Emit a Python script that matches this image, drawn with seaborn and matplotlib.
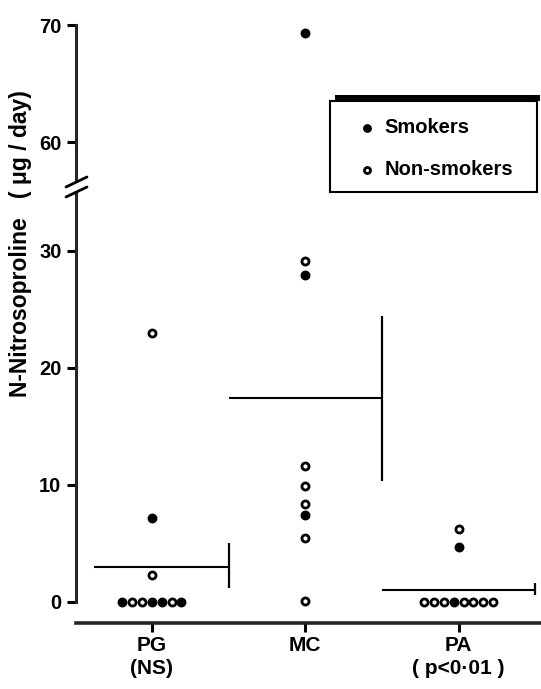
import matplotlib
matplotlib.use("Agg")
import matplotlib.pyplot as plt
from matplotlib.lines import Line2D
from matplotlib.patches import Rectangle
import seaborn as sns
import pandas as pd

groups = ["PG", "MC", "PA"]
tick_labels = ["PG\n(NS)", "MC", "PA\n( p<0·01 )"]

# tied values are laid out left to right in the order given here
pg_values = [23.0, 7.2, 2.3, 0, 0, 0, 0, 0, 0, 0]
pg_smoker = [0, 1, 0, 1, 0, 0, 1, 1, 0, 1]
mc_values = [69.3, 29.1, 27.9, 11.6, 9.9, 8.4, 7.4, 5.5, 0.1]
mc_smoker = [1, 0, 1, 0, 0, 0, 1, 0, 0]
pa_values = [6.2, 4.7, 0, 0, 0, 0, 0, 0, 0, 0]
pa_smoker = [0, 1, 0, 0, 0, 1, 0, 0, 0, 0]

means = [2.95, 17.4, 1.05]
sem_low = [1.2, 10.3, 0.6]
sem_high = [5.0, 24.4, 1.6]

frames = []
for i, (vals, smk) in enumerate([(pg_values, pg_smoker), (mc_values, mc_smoker), (pa_values, pa_smoker)]):
    frames.append(pd.DataFrame({"group": groups[i], "pos": i, "value": vals, "smoker": smk}))
df = pd.concat(frames, ignore_index=True)
df["rank"] = df.groupby(["group", "value"]).cumcount()
df["n"] = df.groupby(["group", "value"])["value"].transform("size")
df["x"] = df["pos"] + (df["rank"] - (df["n"] - 1) / 2) * 0.064

sns.set_style("ticks")
plt.rcParams["font.family"] = ["Liberation Sans", "DejaVu Sans"]
plt.rcParams["font.weight"] = "bold"
for key in ("text.color", "axes.labelcolor", "xtick.color", "ytick.color"):
    plt.rcParams[key] = "black"

W, H = 541, 689
fig = plt.figure(figsize=(W / 100, H / 100), dpi=100)


def px_axes(left, top, right, bottom):
    return fig.add_axes([left / W, 1 - bottom / H, (right - left) / W, (bottom - top) / H])


def fx(x):
    return x / W


def fy(y):
    return 1 - y / H


ax_top = px_axes(76, 24, 540, 180)
ax = px_axes(76, 192, 540, 623)

for a in (ax, ax_top):
    sns.scatterplot(data=df[df.smoker == 1], x="x", y="value", ax=a, color="black",
                    edgecolor="black", s=26, linewidth=2.0, label="Smokers", zorder=3)
    sns.scatterplot(data=df[df.smoker == 0], x="x", y="value", ax=a, color="white",
                    edgecolor="black", s=26, linewidth=2.0, label="Non-smokers", zorder=3)
    if a.get_legend() is not None:
        a.get_legend().remove()
    a.set_xlim(-0.495, 2.53)
    a.set_xlabel("")
    a.set_ylabel("")

# mean line with SEM bar at its right end
line_left = [-0.38, -0.5, -0.5]
for i in range(len(groups)):
    ax.hlines(means[i], i + line_left[i], i + 0.5, color="black", lw=1.5)
    ax.vlines(i + 0.5, sem_low[i], sem_high[i], color="black", lw=1.6)

ax.set_ylim(-1.8, 35)
ax_top.set_ylim(56.75, 70.1)
ax.set_yticks([0, 10, 20, 30])
ax_top.set_yticks([60, 70])
ax.set_xticks(range(len(groups)))
ax.set_xticklabels(tick_labels, linespacing=1.25)
ax_top.set_xticks([])

sns.despine(ax=ax)
sns.despine(ax=ax_top, bottom=True)
ax.spines["left"].set_bounds(0, 35)
ax_top.spines["left"].set_bounds(56.75, 70)
for a in (ax, ax_top):
    a.spines["left"].set_linewidth(2.2)
    a.tick_params(axis="y", length=6.5, width=2.2, pad=4, labelsize=14.5)
ax.spines["bottom"].set_linewidth(2.6)
ax.tick_params(axis="x", length=6.5, width=2.2, pad=3, labelsize=15)

# axis break marks
for y0 in (187, 197):
    fig.add_artist(Line2D([fx(66), fx(87)], [fy(y0), fy(y0 - 10)], color="black", lw=2.0,
                          transform=fig.transFigure))

fig.text(fx(21), fy(244), "N-Nitrosoproline   ( μg / day)", rotation=90, ha="center",
         va="center", fontsize=16.5, fontweight="bold")

# legend box: thin frame with a heavy top edge
fig.add_artist(Rectangle((fx(330), fy(192)), fx(207), 91 / H, transform=fig.transFigure,
                         facecolor="white", edgecolor="black", lw=1.5, zorder=4))
fig.add_artist(Rectangle((fx(335), fy(101)), fx(205), 6 / H, transform=fig.transFigure,
                         facecolor="black", lw=0, zorder=4))
handles, labels = ax.get_legend_handles_labels()
leg = fig.legend(handles, labels, loc="upper left", bbox_to_anchor=(fx(359), fy(118)),
                 frameon=False, borderpad=0, borderaxespad=0, labelspacing=1.15,
                 handlelength=0.8, handletextpad=0.45, markerscale=0.85,
                 prop={"size": 14.5, "weight": "bold"})
leg.set_zorder(5)

fig.savefig("out.png", dpi=100)
